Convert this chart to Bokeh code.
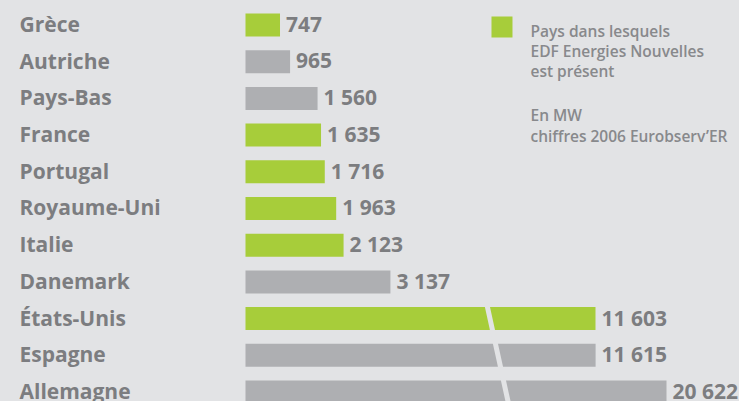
from bokeh.plotting import figure
from bokeh.models import Range1d, Label, ColumnDataSource
from bokeh.core.properties import value
from bokeh.embed import file_html
from bokeh.resources import INLINE

# ---- data ----
countries = ["Grèce", "Autriche", "Pays-Bas", "France", "Portugal", "Royaume-Uni",
             "Italie", "Danemark", "États-Unis", "Espagne", "Allemagne"]
mw = [747, 965, 1560, 1635, 1716, 1963, 2123, 3137, 11603, 11615, 20622]
edf_present = [True, False, False, True, True, True, True, False, True, False, False]
value_labels = ["747", "965", "1 560", "1 635", "1 716", "1 963", "2 123", "3 137",
                "11 603", "11 615", "20 622"]
legend_lines = ["Pays dans lesquels", "EDF Energies Nouvelles", "est présent"]
note_lines = ["En MW", "chiffres 2006 Eurobserv’ER"]

# ---- broken-axis display transform ----
BREAK_T = 6749.0      # value above which the bar is compressed
COMPRESS = 0.1704     # compression factor beyond the break


def display(v):
    return v if v <= BREAK_T else BREAK_T + (v - BREAK_T) * COMPRESS


BG = "#e2e3e5"
GREEN = "#a7cd3a"
GREY = "#aeafb2"
TEXT = "#7c7d80"
LEG_TEXT = "#88898c"
FONT = "Open Sans"
LEG_FONT = "'Open Sans SemiBold', 'Open Sans'"

W, H = 739, 401
rows = list(range(len(countries)))
src = ColumnDataSource(dict(
    y=rows,
    right=[display(v) for v in mw],
    color=[GREEN if e else GREY for e in edf_present],
    name=countries,
    lab=value_labels,
))

p = figure(width=W, height=H, output_backend="svg", toolbar_location=None,
           x_range=Range1d(-5303, 10693), y_range=Range1d(10.259, -0.6676),
           min_border=0, outline_line_color=None)
p.xaxis.visible = False
p.yaxis.visible = False
p.xgrid.visible = False
p.ygrid.visible = False
p.background_fill_color = BG
p.border_fill_color = BG

p.hbar(y="y", left=0, right="right", height=0.627, fill_color="color",
       line_color=None, source=src)

# break marker across the three long bars
p.segment(x0=[5223], y0=[7.6], x1=[5725], y1=[10.5], line_color=BG, line_width=5)

# value labels
p.text(x="right", y="y", text="lab", source=src, x_offset=6, y_offset=-1,
       text_font=value(FONT), text_font_style="bold", text_font_size="21px",
       text_color=TEXT, text_baseline="alphabetic", text_align="left")

# category labels
p.text(x=-4892, y="y", text="name", source=src, y_offset=-1,
       text_font=value(FONT), text_font_style="bold", text_font_size="21px",
       text_color=TEXT, text_baseline="alphabetic", text_align="left")

# legend swatch
p.rect(x=[5552], y=[0.055], width=21, height=21, width_units="screen",
       height_units="screen", fill_color=GREEN, line_color=None)

for k, t in enumerate(legend_lines):
    p.add_layout(Label(x=530, y=H - 30 - 20.3 * k, x_units="screen", y_units="screen",
                       text=t, text_font=LEG_FONT, text_font_size="15.5px",
                       text_font_style="normal", text_color=LEG_TEXT,
                       text_baseline="alphabetic"))
for k, t in enumerate(note_lines):
    p.add_layout(Label(x=530, y=H - 114 - 21 * k, x_units="screen", y_units="screen",
                       text=t, text_font=LEG_FONT, text_font_size="15.5px",
                       text_font_style="normal", text_color=LEG_TEXT,
                       text_baseline="alphabetic"))

open("out.html", "w").write(
    file_html(p, INLINE).replace("<body>", '<body style="background-color:#e2e3e5;">'))
